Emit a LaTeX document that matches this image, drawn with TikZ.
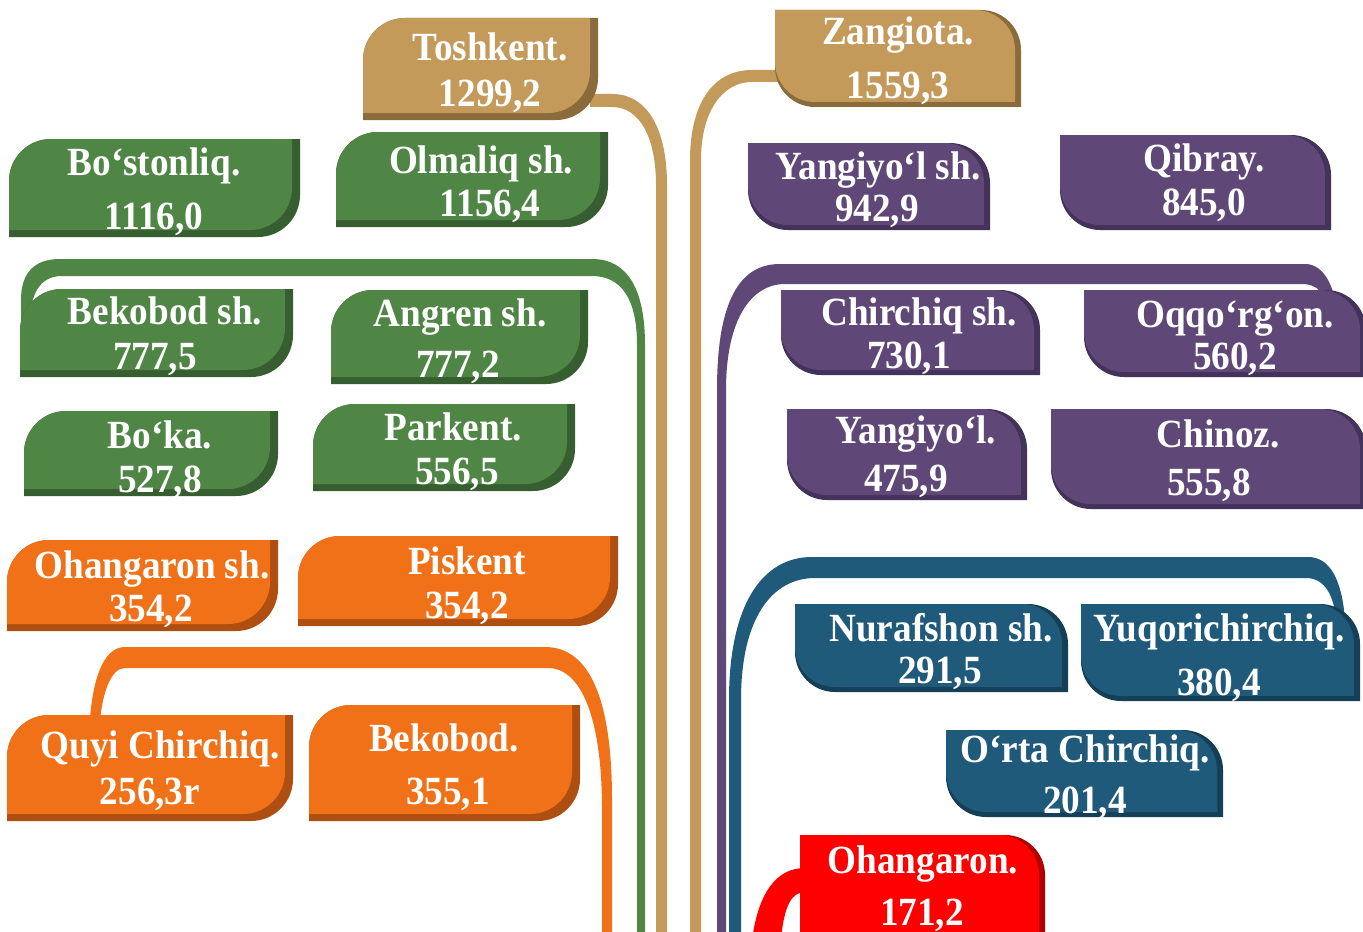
\documentclass[tikz,border=0pt]{standalone}
\usepackage{fontspec}
\newfontfamily\labfont{Liberation Serif}[FakeStretch=0.93]
\definecolor{gold}{HTML}{C49A5B}
\definecolor{goldD}{HTML}{8A6B3C}
\definecolor{grn}{HTML}{4F8545}
\definecolor{grnD}{HTML}{375E30}
\definecolor{org}{HTML}{F07118}
\definecolor{orgD}{HTML}{AE4F11}
\definecolor{pur}{HTML}{5F4878}
\definecolor{purD}{HTML}{43325A}
\definecolor{blu}{HTML}{1F5A7A}
\definecolor{bluD}{HTML}{153F57}
\definecolor{rd}{HTML}{FF0000}
\definecolor{rdD}{HTML}{B00000}
\newcommand\Lfill[6]{\fill[#6] ({#1},{#4}) -- ({#1},{#2+#5}) .. controls ({#1},{#2+0.448*#5}) and ({#1+0.448*#5},{#2}) .. ({#1+#5},{#2}) -- ({#3},{#2}) -- ({#3},{#4-#5}) .. controls ({#3},{#4-0.448*#5}) and ({#3-0.448*#5},{#4}) .. ({#3-#5},{#4}) -- cycle;}
\newcommand\Rfill[6]{\fill[#6] ({#1},{#2}) -- ({#3-#5},{#2}) .. controls ({#3-0.448*#5},{#2}) and ({#3},{#2+0.448*#5}) .. ({#3},{#2+#5}) -- ({#3},{#4}) -- ({#1+#5},{#4}) .. controls ({#1+0.448*#5},{#4}) and ({#1},{#4-0.448*#5}) .. ({#1},{#4-#5}) -- cycle;}
\newcommand\Lbox[5]{\Lfill{#1}{#2}{#3}{#4}{42}{#5D}\Lfill{#1}{#2}{#3-8}{#4-7}{42}{#5}}
\newcommand\Rbox[5]{\Rfill{#1}{#2}{#3}{#4}{40}{#5D}\Rfill{#1}{#2}{#3-6}{#4-5}{40}{#5}}
\tikzset{lab/.style={text=white,font=\labfont\bfseries\fontsize{20}{21}\selectfont,inner sep=0pt,anchor=base}}
\begin{document}
\begin{tikzpicture}[x=0.5pt,y=-0.5pt]
\path[use as bounding box] (0,0) rectangle (1363,931);
\clip (0,0) rectangle (1363,931);
% ---- bands ----
\fill[gold] (590,94) -- (612,94) .. controls (648,94) and (667,130) .. (667,185) -- (667,940) -- (656,940) -- (656,185) .. controls (656,138) and (640,107) .. (612,107) -- (590,107) -- cycle;
\fill[gold] (785,70) -- (752,70) .. controls (712,70) and (690,105) .. (690,160) -- (690,940) -- (701,940) -- (701,160) .. controls (701,112) and (722,82) .. (752,82) -- (785,82) -- cycle;
\fill[grn] (21,320) -- (21,300) .. controls (21,272) and (35,259) .. (60,259) -- (592,259) .. controls (628,259) and (645,290) .. (645,345) -- (645,940) -- (637,940) -- (637,345) .. controls (637,300) and (622,276) .. (592,276) -- (62,276) .. controls (44,276) and (31,288) .. (30,320) -- cycle;
\fill[org] (89,735) .. controls (91,680) and (103,647) .. (125,647) -- (545,647) .. controls (590,647) and (612,700) .. (612,800) -- (612,940) -- (602,940) -- (602,810) .. controls (602,715) and (580,668) .. (548,668) -- (125,668) .. controls (112,668) and (101,690) .. (99,735) -- cycle;
\fill[pur] (717,940) -- (717,390) .. controls (717,300) and (740,264) .. (780,264) -- (1305,264) .. controls (1322,264) and (1333,282) .. (1337,310) -- (1328,310) .. controls (1325,294) and (1318,284) .. (1302,284) -- (785,284) .. controls (752,284) and (726,318) .. (726,390) -- (726,940) -- cycle;
\fill[blu] (729,940) -- (729,700) .. controls (729,605) and (762,557) .. (812,557) -- (1308,557) .. controls (1330,557) and (1342,580) .. (1345,620) -- (1336,620) .. controls (1334,596) and (1325,578) .. (1306,578) -- (815,578) .. controls (772,578) and (741,618) .. (741,700) -- (741,940) -- cycle;
\fill[rd] (752,940) .. controls (758,895) and (775,868) .. (805,868) -- (805,892) .. controls (792,892) and (784,905) .. (781,940) -- cycle;
% ---- boxes ----
\Lbox{363}{18}{598}{120}{gold}
\Rbox{775}{10}{1021}{107}{gold}
\Lbox{9}{139}{300}{237}{grn}
\Lbox{336}{132}{608}{227}{grn}
\Lbox{20}{289}{293}{377}{grn}
\Lbox{331}{290}{588}{384}{grn}
\Lbox{24}{411}{278}{496}{grn}
\Lbox{313}{404}{575}{491}{grn}
\Lbox{7}{540}{278}{631}{org}
\Lbox{298}{536}{618}{626}{org}
\Lbox{7}{715}{293}{821}{org}
\Lbox{309}{705}{580}{821}{org}
\Rbox{748}{143}{990}{230}{pur}
\Rbox{1060}{135}{1331}{230}{pur}
\Rbox{781}{290}{1040}{375}{pur}
\Rbox{1084}{290}{1366}{377}{pur}
\Rbox{787}{409}{1027}{500}{pur}
\Rbox{1051}{409}{1366}{509}{pur}
\Rbox{795}{604}{1068}{692}{blu}
\Rbox{1081}{604}{1360}{701}{blu}
\Rbox{946}{730}{1223}{817}{blu}
\Rbox{800}{835}{1045}{980}{rd}
% ---- labels ----
\node[lab] (tosh) at (490,61) {Toshkent.};
\node[lab] (toshv) at (490,106) {1299,2};
\node[lab] (zang) at (898,45) {Zangiota.};
\node[lab] (zangv) at (898,98) {1559,3};
\node[lab] (bost) at (154,175) {Bo‘stonliq.};
\node[lab] (bostv) at (154,229) {1116,0};
\node[lab] (olma) at (481,173) {Olmaliq sh.};
\node[lab] (olmav) at (490,216) {1156,4};
\node[lab] (bekc) at (165,324) {Bekobod sh.};
\node[lab] (bekcv) at (155,369) {777,5};
\node[lab] (angr) at (460,326) {Angren sh.};
\node[lab] (angrv) at (458,377) {777,2};
\node[lab] (boka) at (160,448) {Bo‘ka.};
\node[lab] (bokav) at (160,492) {527,8};
\node[lab] (park) at (453,440) {Parkent.};
\node[lab] (parkv) at (457,484) {556,5};
\node[lab] (ohas) at (152,578) {Ohangaron sh.};
\node[lab] (ohasv) at (151,621) {354,2};
\node[lab] (pisk) at (467,574) {Piskent};
\node[lab] (piskv) at (467,618) {354,2};
\node[lab] (quyi) at (160,758) {Quyi Chirchiq.};
\node[lab] (quyiv) at (150,804) {256,3r};
\node[lab] (bekt) at (444,751) {Bekobod.};
\node[lab] (bektv) at (448,804) {355,1};
\node[lab] (yans) at (878,179) {Yangiyo‘l sh.};
\node[lab] (yansv) at (877,221) {942,9};
\node[lab] (qibr) at (1204,171) {Qibray.};
\node[lab] (qibrv) at (1204,215) {845,0};
\node[lab] (chir) at (919,325) {Chirchiq sh.};
\node[lab] (chirv) at (909,368) {730,1};
\node[lab] (oqqo) at (1235,327) {Oqqo‘rg‘on.};
\node[lab] (oqqov) at (1235,369) {560,2};
\node[lab] (yant) at (916,443) {Yangiyo‘l.};
\node[lab] (yantv) at (906,491) {475,9};
\node[lab] (chin) at (1218,447) {Chinoz.};
\node[lab] (chinv) at (1209,495) {555,8};
\node[lab] (nura) at (941,641) {Nurafshon sh.};
\node[lab] (nurav) at (940,683) {291,5};
\node[lab] (yuqo) at (1219,641) {Yuqorichirchiq.};
\node[lab] (yuqov) at (1219,695) {380,4};
\node[lab] (orta) at (1085,762) {O‘rta Chirchiq.};
\node[lab] (ortav) at (1085,813) {201,4};
\node[lab] (ohan) at (923,873) {Ohangaron.};
\node[lab] (ohanv) at (922,925) {171,2};
\end{tikzpicture}
\end{document}
